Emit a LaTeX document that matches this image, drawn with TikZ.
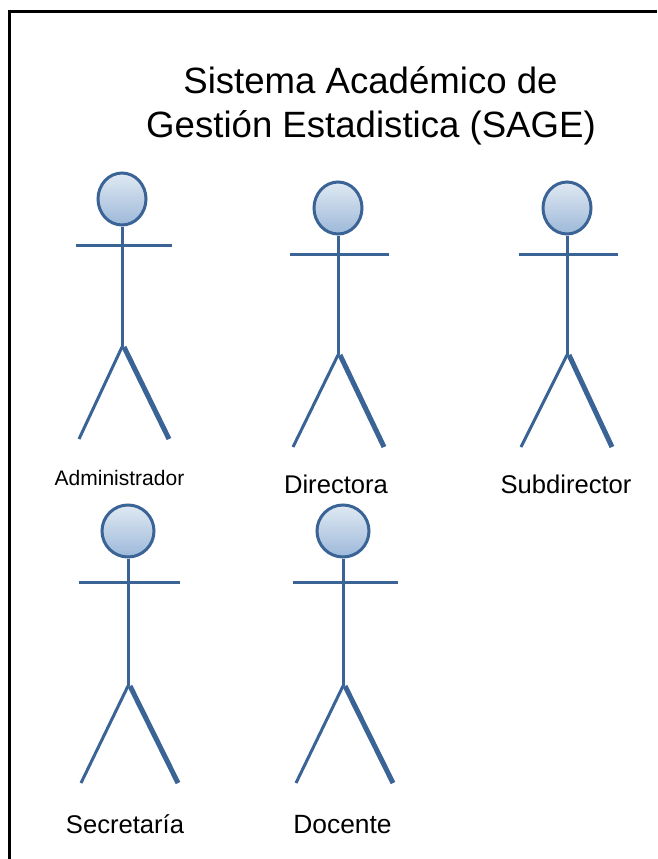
\documentclass[tikz,border=0pt]{standalone}
\usepackage{fontspec}
\setmainfont{Liberation Sans}
\definecolor{actorblue}{HTML}{3A6396}
\definecolor{headtop}{HTML}{E0E9F3}
\definecolor{headbot}{HTML}{9DB8D9}
\usetikzlibrary{shapes.geometric}
\tikzset{
  x=1pt,y=-1pt,
  limb/.style={draw=actorblue,line width=3pt},
  thicklimb/.style={draw=actorblue,line width=5pt},
  headshape/.style={ellipse,draw=actorblue,line width=3pt,top color=headtop,bottom color=headbot,inner sep=0pt},
  actorlabel/.style={font=\fontsize{25.6}{28}\selectfont,text=black,inner sep=0pt,anchor=base},
  titletext/.style={font=\fontsize{36.6}{44}\selectfont,text=black,inner sep=0pt,anchor=base},
}
\newcommand{\actorfig}[9]{%
  \def\argname{#1}\def\argcx{#2}\def\argcy{#3}\def\argrx{#4}\def\argry{#5}%
  \def\argay{#6}\def\argal{#7}\def\argar{#8}\def\argcr{#9}\actorfigrest}
\newcommand{\actorfigrest}[3]{%
  \node[headshape,minimum width=2*\argrx,minimum height=2*\argry] (\argname head) at (\argcx,\argcy) {};
  \coordinate (\argname armL) at (\argal,\argay);
  \coordinate (\argname armR) at (\argar,\argay);
  \coordinate (\argname crotch) at (\argcx,\argcr);
  \coordinate (\argname crotchR) at ([xshift=2pt]\argname crotch);
  \coordinate (\argname footL) at (#2,#1);
  \coordinate (\argname footR) at (#3,#1);
  \draw[limb] (\argname head.south) -- (\argname crotch);
  \draw[limb] (\argname armL) -- (\argname armR);
  \draw[limb] (\argname crotch) -- (\argname footL);
  \draw[thicklimb] (\argname crotchR) -- (\argname footR);
}
\begin{document}
\begin{tikzpicture}
\useasboundingbox (0,0) rectangle (657,859);
\fill[white] (0,0) rectangle (657,859);
\draw[black,line width=2.8pt] (9.5,860) -- (9.5,11.5) -- (657,11.5);
\node[titletext] (t1) at (370.5,93) {Sistema Académico de};
\node[titletext] (t2) at (371,137.5) {Gestión Estadistica (SAGE)};
\actorfig{a}{122}{199}{24}{26}{245}{76}{172}{347}{439}{79}{169}
\actorfig{b}{338}{208}{24}{26}{254}{290}{389}{355}{447}{293}{384}
\actorfig{c}{567}{208}{24}{26}{254}{519}{618}{355}{447}{521}{612}
\actorfig{d}{128}{531}{26}{26}{582}{79}{180}{686}{783}{81}{178}
\actorfig{e}{343}{531}{26}{26}{582}{293}{398}{686}{783}{296}{393}
\node[actorlabel,font=\fontsize{21}{24}\selectfont] (la) at (119.5,485) {Administrador};
\node[actorlabel] (lb) at (336,493) {Directora};
\node[actorlabel] (lc) at (566,493) {Subdirector};
\node[actorlabel] (ld) at (125,833) {Secretaría};
\node[actorlabel,font=\fontsize{26.4}{28}\selectfont] (le) at (342.5,833) {Docente};
\end{tikzpicture}
\end{document}
